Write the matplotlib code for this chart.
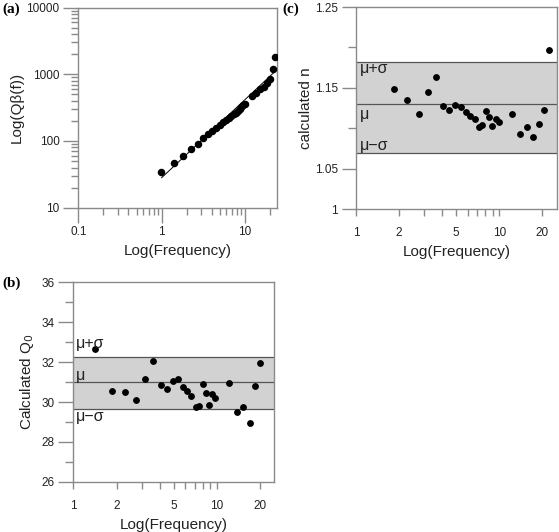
import numpy as np
import matplotlib
matplotlib.use("Agg")
import matplotlib.pyplot as plt
from matplotlib.ticker import FixedLocator, FixedFormatter, LogLocator, NullFormatter

plt.rcParams['font.family'] = ['Liberation Sans', 'DejaVu Sans']

# (a) Q*beta(f) against frequency, log-log
freq_a = [0.99, 1.41, 1.83, 2.27, 2.73, 3.16, 3.62, 4.08, 4.52, 5.0, 5.48, 5.96,
          6.41, 6.89, 7.36, 7.78, 8.22, 8.69, 9.08, 9.6, 10.05, 12.1, 13.7, 15.3,
          16.8, 18.3, 20.0, 21.9, 23.2]
qbeta_a = [34.6, 47.2, 59.4, 74.8, 88.9, 109, 128, 141, 158, 175, 192, 206,
           220, 236, 250, 264, 283, 303, 321, 341, 361, 470, 516, 592,
           634, 743, 845, 1191, 1782]
# fitted power law Q = q0 * f^n drawn over the data range
fit_q0 = 28.1
fit_n = 1.17
fit_range = [1.0, 23.2]

# (b) calculated Q0
freq_b = [1.42, 1.85, 2.28, 2.72, 3.16, 3.59, 4.06, 4.47, 4.92, 5.35, 5.77, 6.22,
          6.63, 7.11, 7.54, 7.94, 8.38, 8.85, 9.27, 9.73, 12.06, 13.7, 15.2, 16.9,
          18.5, 20.0]
q0_b = [32.65, 30.57, 30.5, 30.1, 31.17, 32.07, 30.85, 30.67, 31.05, 31.15, 30.77, 30.55,
        30.3, 29.73, 29.82, 30.9, 30.45, 29.87, 30.42, 30.18, 30.97, 29.5, 29.77, 28.97,
        30.8, 31.97]
q0_mu, q0_upper, q0_lower = 30.98, 32.27, 29.65

# (c) calculated n
freq_c = [1.85, 2.28, 2.74, 3.16, 3.59, 4.05, 4.48, 4.93, 5.38, 5.83, 6.25, 6.74,
          7.18, 7.61, 8.08, 8.52, 8.94, 9.44, 9.9, 12.3, 13.9, 15.5, 17.2, 18.8,
          20.5, 22.1]
n_c = [1.148, 1.135, 1.117, 1.145, 1.163, 1.127, 1.122, 1.1285, 1.1264, 1.1198, 1.1157, 1.1112,
       1.102, 1.104, 1.1218, 1.114, 1.103, 1.1115, 1.108, 1.118, 1.093, 1.101, 1.089, 1.1053,
       1.123, 1.197]
n_mu, n_upper, n_lower = 1.130, 1.182, 1.069

freq_ticks = [1, 2, 5, 10, 20]
freq_minor = [3, 4, 6, 7, 8, 9]

FRAME = '#8a8a8a'
TXT = '#222222'


def style_axes(ax):
    for s in ax.spines.values():
        s.set_color(FRAME)
        s.set_linewidth(1.0)
    ax.tick_params(which='both', color=FRAME, width=1.0, labelcolor=TXT, labelsize=8.5)


def band(ax, lo, mu, hi):
    ax.axhspan(lo, hi, color='#d2d2d2', zorder=0, lw=0)
    for v in (lo, mu, hi):
        ax.axhline(v, color='#555555', lw=0.9, zorder=1)


def freq_axis(ax):
    ax.xaxis.set_major_locator(FixedLocator(freq_ticks))
    ax.xaxis.set_major_formatter(FixedFormatter([str(t) for t in freq_ticks]))
    ax.xaxis.set_minor_locator(FixedLocator(freq_minor))
    ax.xaxis.set_minor_formatter(NullFormatter())
    ax.tick_params(axis='x', which='both', length=5, pad=8)


def sigma_labels(ax, x, ys):
    for y, s in zip(ys, ['\u03bc+\u03c3', '\u03bc', '\u03bc\u2212\u03c3']):
        ax.text(x, y, s, fontsize=11.5, va='center', color=TXT)


fig = plt.figure(figsize=(5.59, 5.32), dpi=100)

# ---- panel (a)
ax_a = fig.add_axes([0.1401, 0.6096, 0.356, 0.3763])
ax_a.set_xscale('log')
ax_a.set_yscale('log')
ax_a.set_xlim(0.1, 24.5)
ax_a.set_ylim(10, 10000)
f_line = np.array(fit_range)
ax_a.plot(f_line, fit_q0 * f_line ** fit_n, color='black', lw=0.7, zorder=2)
ax_a.plot(freq_a, qbeta_a, 'o', color='black', ms=4.4, zorder=3)
ax_a.xaxis.set_major_locator(FixedLocator([0.1, 1, 10]))
ax_a.xaxis.set_major_formatter(FixedFormatter(['0.1', '1', '10']))
ax_a.xaxis.set_minor_locator(FixedLocator([k * 0.1 for k in range(2, 10)] + list(range(2, 10)) + [20]))
ax_a.xaxis.set_minor_formatter(NullFormatter())
ax_a.yaxis.set_major_locator(FixedLocator([10, 100, 1000, 10000]))
ax_a.yaxis.set_major_formatter(FixedFormatter(['10', '100', '1000', '10000']))
ax_a.yaxis.set_minor_locator(LogLocator(base=10, subs=np.arange(2, 10)))
ax_a.yaxis.set_minor_formatter(NullFormatter())
style_axes(ax_a)
ax_a.tick_params(which='major', length=10.5, pad=3)
ax_a.tick_params(which='minor', length=5)
ax_a.set_xlabel('Log(Frequency)', fontsize=11, color=TXT, labelpad=4)
ax_a.set_ylabel('Log(Q\u03b2(f))', fontsize=11, color=TXT, labelpad=2)
fig.text(0.004, 0.982, '(a)', fontsize=11, fontweight='bold', family='Liberation Serif', va='center')

# ---- panel (c)
ax_c = fig.add_axes([0.6369, 0.6071, 0.3587, 0.3797])
ax_c.set_xscale('log')
ax_c.set_xlim(1, 25.1)
ax_c.set_ylim(1, 1.25)
band(ax_c, n_lower, n_mu, n_upper)
ax_c.plot(freq_c, n_c, 'o', color='black', ms=3.9, zorder=3)
freq_axis(ax_c)
ax_c.yaxis.set_major_locator(FixedLocator([1, 1.05, 1.15, 1.25]))
ax_c.yaxis.set_major_formatter(FixedFormatter(['1', '1.05', '1.15', '1.25']))
ax_c.yaxis.set_minor_locator(FixedLocator([1.1, 1.2]))
style_axes(ax_c)
ax_c.tick_params(axis='y', which='major', length=10, pad=3)
ax_c.tick_params(axis='y', which='minor', length=5.5)
sigma_labels(ax_c, 1.07, [1.174, 1.1165, 1.0784])
ax_c.set_xlabel('Log(Frequency)', fontsize=11, color=TXT, labelpad=4)
ax_c.set_ylabel('calculated n', fontsize=11, color=TXT, labelpad=1)
fig.text(0.505, 0.982, '(c)', fontsize=11, fontweight='bold', family='Liberation Serif', va='center')

# ---- panel (b)
ax_b = fig.add_axes([0.1311, 0.0940, 0.3585, 0.3759])
ax_b.set_xscale('log')
ax_b.set_xlim(1, 24.8)
ax_b.set_ylim(26, 36)
band(ax_b, q0_lower, q0_mu, q0_upper)
ax_b.plot(freq_b, q0_b, 'o', color='black', ms=3.9, zorder=3)
freq_axis(ax_b)
ax_b.yaxis.set_major_locator(FixedLocator(range(26, 37, 2)))
ax_b.yaxis.set_minor_locator(FixedLocator(range(27, 36, 2)))
style_axes(ax_b)
ax_b.tick_params(axis='y', which='major', length=10.5, pad=3)
ax_b.tick_params(axis='y', which='minor', length=5.5)
sigma_labels(ax_b, 1.045, [32.95, 31.35, 29.27])
ax_b.set_xlabel('Log(Frequency)', fontsize=11, color=TXT, labelpad=4)
ax_b.set_ylabel('Calculated Q$_0$', fontsize=11, color=TXT, labelpad=4)
fig.text(0.004, 0.468, '(b)', fontsize=11, fontweight='bold', family='Liberation Serif', va='center')

fig.savefig('out.png', dpi=100)
